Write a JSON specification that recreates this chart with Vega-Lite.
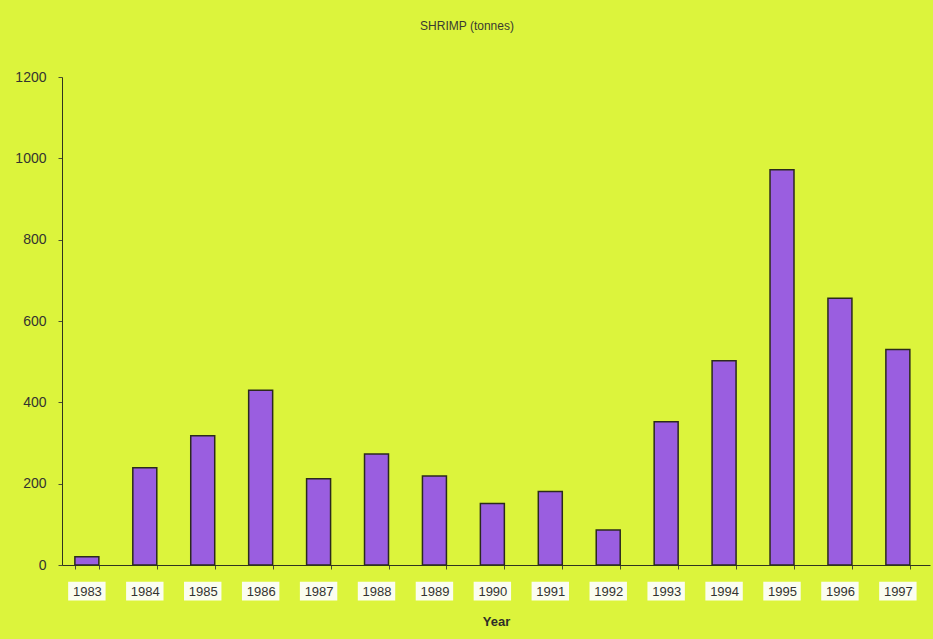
{
  "$schema": "https://vega.github.io/schema/vega-lite/v6.json",
  "autosize": "none",
  "width": 868,
  "height": 488,
  "padding": {"left": 62, "top": 77, "right": 3, "bottom": 74},
  "background": "#dcf43c",
  "title": {
    "text": "SHRIMP (tonnes)",
    "font": "Liberation Sans",
    "fontSize": 12,
    "fontWeight": "normal",
    "color": "#3a3a30",
    "anchor": "middle",
    "dx": -29,
    "offset": 37
  },
  "data": {
    "values": [
      {"Year": "1983", "Tonnes": 20},
      {"Year": "1984", "Tonnes": 239},
      {"Year": "1985", "Tonnes": 318},
      {"Year": "1986", "Tonnes": 430},
      {"Year": "1987", "Tonnes": 212},
      {"Year": "1988", "Tonnes": 273},
      {"Year": "1989", "Tonnes": 219},
      {"Year": "1990", "Tonnes": 151},
      {"Year": "1991", "Tonnes": 181},
      {"Year": "1992", "Tonnes": 86},
      {"Year": "1993", "Tonnes": 352},
      {"Year": "1994", "Tonnes": 502},
      {"Year": "1995", "Tonnes": 972},
      {"Year": "1996", "Tonnes": 656},
      {"Year": "1997", "Tonnes": 530}
    ]
  },
  "encoding": {
    "x": {
      "field": "Year",
      "type": "ordinal",
      "scale": {"paddingInner": 0.586, "paddingOuter": 0.285, "align": 0.39},
      "axis": {
        "title": "Year",
        "zindex": 1,
        "titleFont": "Liberation Sans",
        "titleFontSize": 13,
        "titleFontWeight": "bold",
        "titleColor": "#2f2f28",
        "titlePadding": 17,
        "labelFont": "Liberation Sans",
        "labelFontSize": 13,
        "labelColor": "#333330",
        "labelAngle": 0,
        "labelPadding": 16,
        "domainColor": "#2f3320",
        "domainWidth": 1,
        "tickColor": "#4a5030",
        "tickSize": 4,
        "tickBand": "extent"
      }
    }
  },
  "layer": [
    {
      "description": "white label plates under the year labels",
      "mark": {"type": "bar", "fill": "#fbfdf0", "width": {"band": 1.56}},
      "encoding": {
        "y": {"datum": -41, "type": "quantitative"},
        "y2": {"datum": -87}
      }
    },
    {
      "mark": {
        "type": "bar",
        "fill": "#9a5ee0",
        "stroke": "#2b2a1c",
        "strokeWidth": 1.5
      },
      "encoding": {
        "y": {
          "field": "Tonnes",
          "type": "quantitative",
          "scale": {"domain": [0, 1200]},
          "axis": {
            "title": null,
            "format": "d",
            "values": [0, 200, 400, 600, 800, 1000, 1200],
            "grid": false,
            "labelFont": "Liberation Sans",
            "labelFontSize": 14,
            "labelColor": "#333330",
            "labelPadding": 12,
            "domainColor": "#2f3320",
            "domainWidth": 1,
            "tickColor": "#4a5030",
            "tickSize": 4
          }
        }
      }
    }
  ],
  "config": {
    "view": {"stroke": null}
  }
}
